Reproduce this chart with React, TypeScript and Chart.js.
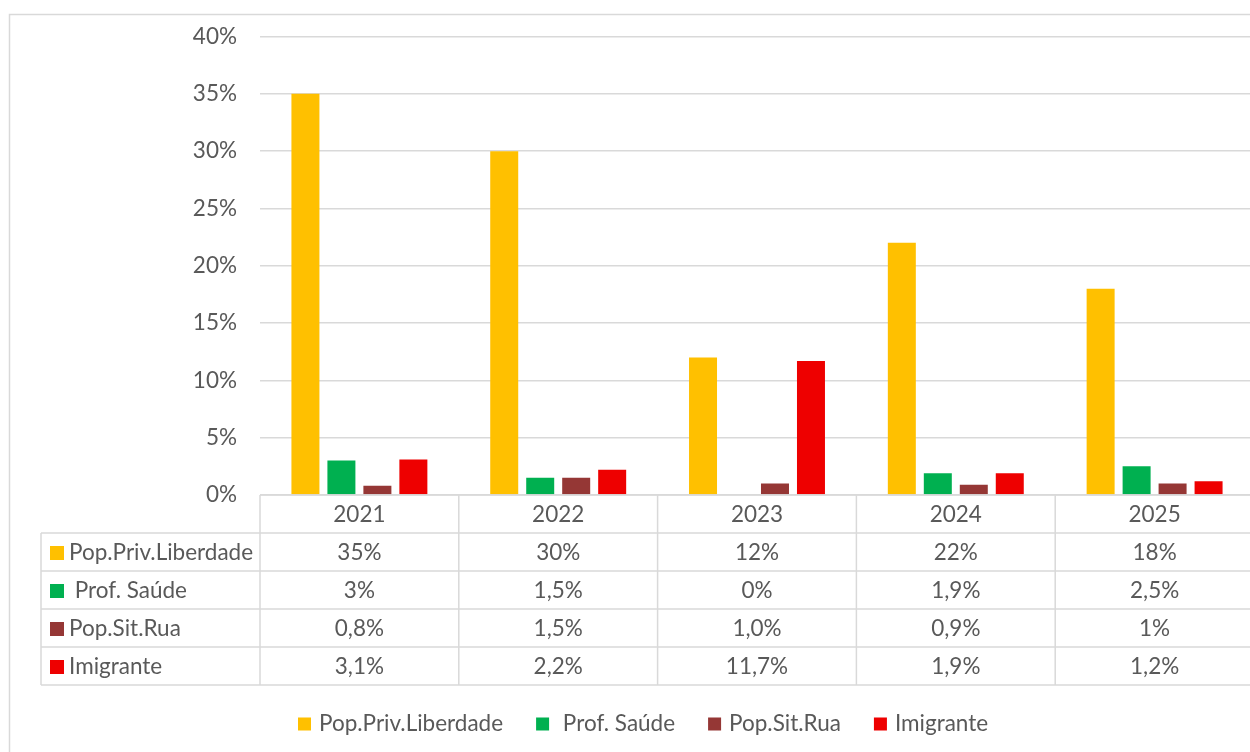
import React, { useEffect, useRef } from "react";
import { Chart, registerables } from "chart.js";

Chart.register(...registerables);

const years = ["2021", "2022", "2023", "2024", "2025"];
const seriesNames = ["Pop.Priv.Liberdade", " Prof. Saúde", "Pop.Sit.Rua", "Imigrante"];
const seriesColors = ["#FFC000", "#00B050", "#953735", "#EE0000"];

const popPrivLiberdade = [35, 30, 12, 22, 18];
const profSaude = [3, 1.5, 0, 1.9, 2.5];
const popSitRua = [0.8, 1.5, 1.0, 0.9, 1];
const imigrante = [3.1, 2.2, 11.7, 1.9, 1.2];

const popPrivLiberdadeText = ["35%", "30%", "12%", "22%", "18%"];
const profSaudeText = ["3%", "1,5%", "0%", "1,9%", "2,5%"];
const popSitRuaText = ["0,8%", "1,5%", "1,0%", "0,9%", "1%"];
const imigranteText = ["3,1%", "2,2%", "11,7%", "1,9%", "1,2%"];

const yMin = 0;
const yMax = 40;
const yStep = 5;

const FONT = "Lato, 'Open Sans', sans-serif";
const FONT_SIZE = 22.5;
const TEXT_COLOR = "#595959";
const LINE_COLOR = "#d9d9d9";

const tableText = [popPrivLiberdadeText, profSaudeText, popSitRuaText, imigranteText];

const tablePlugin = {
  id: "dataTableAndLegend",
  afterDraw(chart: any) {
    const ctx = chart.ctx;
    const { left, right, bottom } = chart.chartArea;
    const xs = chart.scales.x;
    const n = years.length;
    const cw = (right - left) / n;
    const rowH = 38;
    const labelLeft = 41;
    const rows = [bottom, bottom + rowH, bottom + 2 * rowH, bottom + 3 * rowH, bottom + 4 * rowH, bottom + 5 * rowH];

    ctx.save();
    // outer frame
    ctx.strokeStyle = LINE_COLOR;
    ctx.lineWidth = 1.5;
    ctx.strokeRect(9.5, 14.5, 2000, 2000);

    // table lines
    ctx.beginPath();
    ctx.moveTo(left, rows[0]);
    ctx.lineTo(right, rows[0]);
    for (let r = 1; r < rows.length; r++) {
      ctx.moveTo(labelLeft, rows[r]);
      ctx.lineTo(right, rows[r]);
    }
    ctx.moveTo(labelLeft, rows[1]);
    ctx.lineTo(labelLeft, rows[5]);
    for (let i = 0; i <= n; i++) {
      const x = left + i * cw;
      ctx.moveTo(x, rows[0]);
      ctx.lineTo(x, rows[5]);
    }
    ctx.stroke();

    // header
    ctx.fillStyle = TEXT_COLOR;
    ctx.font = `${FONT_SIZE}px ${FONT}`;
    ctx.textAlign = "center";
    ctx.textBaseline = "middle";
    for (let i = 0; i < n; i++) {
      const cx = xs.getPixelForValue(i);
      ctx.fillText(years[i], cx, (rows[0] + rows[1]) / 2 + 1);
    }
    // rows
    const ds = chart.data.datasets;
    for (let s = 0; s < ds.length; s++) {
      const cy = (rows[s + 1] + rows[s + 2]) / 2 + 1;
      ctx.fillStyle = ds[s].backgroundColor;
      ctx.fillRect(50, cy - 7, 14, 14);
      ctx.fillStyle = TEXT_COLOR;
      ctx.textAlign = "left";
      ctx.fillText(ds[s].label, 69, cy);
      ctx.textAlign = "center";
      for (let i = 0; i < n; i++) {
        ctx.fillText(tableText[s][i], xs.getPixelForValue(i), cy);
      }
    }

    // legend
    let lx = 298;
    const ly = 724;
    ctx.textAlign = "left";
    for (let s = 0; s < ds.length; s++) {
      ctx.fillStyle = ds[s].backgroundColor;
      ctx.fillRect(lx, ly - 6.5, 13, 13);
      ctx.fillStyle = TEXT_COLOR;
      ctx.fillText(ds[s].label, lx + 21, ly);
      lx += 21 + ctx.measureText(ds[s].label).width + 33;
    }
    ctx.restore();
  },
};

export default function App() {
  const ref = useRef<HTMLCanvasElement>(null);
  useEffect(() => {
    if (!ref.current) return;
    const values = [popPrivLiberdade, profSaude, popSitRua, imigrante];
    const chart = new Chart(ref.current, {
      type: "bar",
      data: {
        labels: years,
        datasets: seriesNames.map((name, i) => ({
          label: name,
          data: values[i],
          backgroundColor: seriesColors[i],
          borderWidth: 0,
          categoryPercentage: 0.724,
          barPercentage: 0.778,
        })),
      },
      options: {
        animation: false,
        responsive: false,
        devicePixelRatio: 1,
        layout: { padding: { left: 0, top: 34, right: 16, bottom: 257 } },
        plugins: {
          legend: { display: false },
          tooltip: { enabled: false },
        },
        scales: {
          x: { display: false },
          y: {
            min: yMin,
            max: yMax,
            afterFit: (scale: any) => {
              scale.width = 260;
            },
            ticks: {
              stepSize: yStep,
              padding: 23,
              color: TEXT_COLOR,
              font: { family: FONT, size: FONT_SIZE },
              callback: (v: any) => `${v}%`,
            },
            grid: { color: LINE_COLOR, lineWidth: 1.5, drawTicks: false },
            border: { display: false },
          },
        },
      },
      plugins: [tablePlugin],
    });
    return () => chart.destroy();
  }, []);
  return (
    <div
      style={{
        position: "fixed",
        left: 0,
        top: 0,
        width: 1250,
        height: 752,
        overflow: "hidden",
        background: "#fff",
      }}
    >
      <canvas ref={ref} width={1270} height={752} style={{ display: "block" }} />
    </div>
  );
}
